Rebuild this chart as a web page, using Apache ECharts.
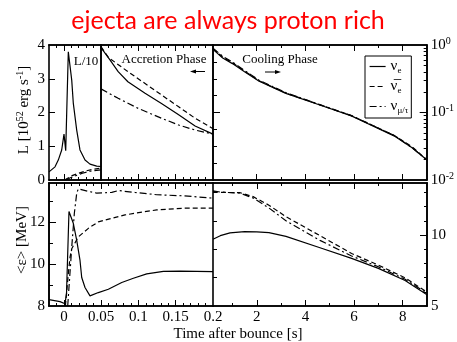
<!DOCTYPE html>
<html><head><meta charset="utf-8">
<script src="https://cdn.jsdelivr.net/npm/echarts@6/dist/echarts.min.js"></script>
<style>html,body{margin:0;padding:0;background:#fff}#c{width:457px;height:342px}</style>
</head><body><div id="c"></div>
<script>
// ---------- data (time in s) ----------
// upper-left inset: luminosity divided by 10 around bounce
const insetTimeNue = [-0.02,-0.0187,-0.0119,-0.0075,-0.0029,0.0002,0.0025,0.006,0.0106,0.0127,0.0173,0.0217,0.0285,0.0352,0.0442,0.05];
const insetLumNue  = [0.24,0.25,0.39,0.59,0.89,1.36,0.87,3.80,2.96,2.28,1.48,0.89,0.59,0.47,0.41,0.40];
const insetTimeNuebar = [0.001,0.005,0.01,0.02,0.03,0.04,0.05];
const insetLumNuebar  = [0.0,0.05,0.12,0.20,0.27,0.32,0.35];
const insetTimeNumu = [0.003,0.008,0.015,0.025,0.035,0.05];
const insetLumNumu  = [0.0,0.06,0.12,0.20,0.26,0.30];

// accretion phase luminosity [1e52 erg/s]
const accTimeNue = [0.05,0.062,0.073,0.086,0.109,0.131,0.154,0.176,0.2];
const accLumNue  = [3.92,3.56,3.21,2.91,2.57,2.27,1.93,1.60,1.36];
const accTimeNuebar = [0.05,0.06,0.086,0.109,0.131,0.154,0.176,0.2];
const accLumNuebar  = [3.95,3.63,3.21,2.86,2.52,2.17,1.83,1.52];
const accTimeNumu = [0.05,0.073,0.1,0.131,0.154,0.176,0.2];
const accLumNumu  = [2.70,2.42,2.12,1.83,1.63,1.48,1.36];

// cooling phase luminosity (log axis)
const coolTime = [0.2,0.6,1.0,1.5,2.1,3.2,4.6,5.9,7.0,7.7,8.4,9.0];
const coolLumNue    = [0.86,0.64,0.53,0.40,0.29,0.192,0.129,0.089,0.058,0.044,0.030,0.020];
const coolLumNuebar = [0.88,0.66,0.545,0.41,0.295,0.194,0.130,0.090,0.059,0.045,0.031,0.020];
const coolLumNumu   = [0.90,0.68,0.56,0.42,0.30,0.197,0.131,0.090,0.059,0.045,0.030,0.020];

// mean energies [MeV], early phase
const earlyTimeNue = [-0.02,-0.0187,-0.0052,0.0015,0.0035,0.0068,0.0126,0.0172,0.0216,0.0239,0.0283,0.035,0.0462,0.0596,0.0776,0.0932,0.1111,0.1334,0.1558,0.2];
const earlyEnNue   = [8.30,8.29,8.21,8.11,8.60,12.50,11.94,11.13,10.17,9.36,8.88,8.48,8.64,8.80,9.12,9.32,9.53,9.65,9.66,9.64];
const earlyTimeNuebar = [0.002,0.0059,0.0082,0.0105,0.0193,0.0328,0.0462,0.0642,0.082,0.0954,0.1246,0.1603,0.2];
const earlyEnNuebar   = [8.00,9.53,10.33,10.73,11.29,11.70,12.01,12.18,12.34,12.42,12.58,12.66,12.66];
const earlyTimeNumu = [0.0051,0.0105,0.014,0.0172,0.0193,0.0216,0.0328,0.044,0.0642,0.073,0.0954,0.1246,0.1603,0.2];
const earlyEnNumu   = [8.00,10.80,12.42,13.38,13.58,13.62,13.46,13.38,13.41,13.50,13.41,13.30,13.25,13.14];

// mean energies [MeV], cooling phase
const lateTimeNue = [0.2,0.5,0.9,1.5,2.0,2.5,3.2,4.6,5.9,7.0,8.1,9.0];
const lateEnNue   = [9.70,9.95,10.15,10.24,10.22,10.16,9.90,9.10,8.35,7.65,6.80,5.80];
const lateTimeHeavy = [0.2,0.5,1.3,1.85,2.5,3.2,4.6,5.9,7.0,8.1,9.0];
const lateEnNuebar  = [13.05,13.00,12.98,12.70,12.10,11.29,9.95,8.70,7.88,6.98,5.97];
const lateEnNumu    = [13.10,13.02,12.95,12.60,11.90,11.00,9.62,8.52,7.76,6.88,5.90];

// tick labels
const earlyTimeLabels = [0,0.05,0.1,0.15,0.2];
const lateTimeLabels = [2,4,6,8];
const lumLabels = [0,1,2,3,4];
const logLumLabels = [0.01,0.1,1];
const earlyEnLabels = [8,10,12];
const lateEnLabels = [5,10];

// ---------- helpers ----------
const SERIF = '"Liberation Serif","DejaVu Serif",serif';
const xAxis = [], yAxis = [], grid = [], series = [];

function steps(a, b, s, skip) {
  skip = skip || [];
  const out = [], n = Math.round((b - a) / s);
  for (let i = 0; i <= n; i++) {
    const v = +(a + i * s).toFixed(6);
    if (!skip.some(k => Math.abs(k - v) < 1e-9)) out.push(v);
  }
  return out;
}

function axis(dim, g, pos, type, min, max, ticks, len, labels, fmt) {
  const a = {
    type: type, gridIndex: g, position: pos, offset: 0, min: min, max: max,
    splitLine: {show: false}, minorTick: {show: false},
    axisLine: {show: true, onZero: false, lineStyle: {color: '#000', width: 1.6}},
    axisTick: {show: ticks.length > 0, inside: true, length: len,
               customValues: ticks.length ? ticks : undefined,
               lineStyle: {color: '#000', width: 1}},
    axisLabel: labels ? {show: true, customValues: labels, formatter: fmt, color: '#000',
                         fontFamily: SERIF, fontSize: 15, margin: 4}
                      : {show: false}
  };
  if (type === 'log') a.logBase = 10;
  const arr = dim === 'x' ? xAxis : yAxis;
  arr.push(a);
  return arr.length - 1;
}

const numFmt = v => String(+v.toFixed(4));
const logFmt = v => '{b|10}{e|' + Math.round(Math.log10(v)) + '}';

const LINE_TYPE = {nue: 'solid', nuebar: [5, 3], numu: [7, 3, 2, 3]};
function curve(name, xs, ys, xi, yi) {
  series.push({
    type: 'line', name: name, xAxisIndex: xi, yAxisIndex: yi,
    data: xs.map((t, i) => [t, ys[i]]),
    symbol: 'none', showSymbol: false, clip: true, animation: false,
    lineStyle: {color: '#000', width: 1.2, type: LINE_TYPE[name]},
    itemStyle: {color: '#000'}
  });
}

// ---------- panels ----------
const TOP = 45, TOP_H = 135, BOT = 183, BOT_H = 123;
const X0 = 49, X1 = 101, X2 = 213, X3 = 427;

// 0: inset, L/10 around bounce
grid.push({left: X0, top: TOP, width: X1 - X0, height: TOP_H});
let gx = axis('x', 0, 'bottom', 'value', -0.02, 0.05, steps(-0.01, 0.04, 0.01, [0]), 3);
axis('x', 0, 'bottom', 'value', -0.02, 0.05, [0], 6);
axis('x', 0, 'top', 'value', -0.02, 0.05, steps(-0.01, 0.04, 0.01, [0]), 3);
axis('x', 0, 'top', 'value', -0.02, 0.05, [0], 6);
let gy = axis('y', 0, 'left', 'value', 0, 4, [1, 2, 3], 6, lumLabels, numFmt);
axis('y', 0, 'right', 'value', 0, 4, [], 0);
curve('nue', insetTimeNue, insetLumNue, gx, gy);
curve('nuebar', insetTimeNuebar, insetLumNuebar, gx, gy);
curve('numu', insetTimeNumu, insetLumNumu, gx, gy);

// 1: accretion phase luminosity
grid.push({left: X1, top: TOP, width: X2 - X1, height: TOP_H});
gx = axis('x', 1, 'bottom', 'value', 0.05, 0.2, steps(0.06, 0.19, 0.01, [0.1, 0.15]), 3);
axis('x', 1, 'bottom', 'value', 0.05, 0.2, [0.1, 0.15], 6);
axis('x', 1, 'top', 'value', 0.05, 0.2, steps(0.06, 0.19, 0.01, [0.1, 0.15]), 3);
axis('x', 1, 'top', 'value', 0.05, 0.2, [0.1, 0.15], 6);
gy = axis('y', 1, 'left', 'value', 0, 4, [], 0);
curve('nue', accTimeNue, accLumNue, gx, gy);
curve('nuebar', accTimeNuebar, accLumNuebar, gx, gy);
curve('numu', accTimeNumu, accLumNumu, gx, gy);

// 2: cooling phase luminosity, log scale
grid.push({left: X2, top: TOP, width: X3 - X2, height: TOP_H});
gx = axis('x', 2, 'bottom', 'value', 0.2, 9, [1, 3, 5, 7], 3);
axis('x', 2, 'bottom', 'value', 0.2, 9, [2, 4, 6, 8], 6);
axis('x', 2, 'top', 'value', 0.2, 9, [1, 3, 5, 7], 3);
axis('x', 2, 'top', 'value', 0.2, 9, [2, 4, 6, 8], 6);
gy = axis('y', 2, 'left', 'log', 0.01, 1, [0.0178, 0.0316, 0.0562, 0.178, 0.316, 0.562], 4);
axis('y', 2, 'left', 'log', 0.01, 1, [0.1], 7);
const decadeMinors = [];
[0.01, 0.1].forEach(d => { for (let k = 2; k <= 9; k++) decadeMinors.push(+(k * d).toFixed(4)); });
axis('y', 2, 'right', 'log', 0.01, 1, decadeMinors, 3);
axis('y', 2, 'right', 'log', 0.01, 1, [0.1], 7, logLumLabels, logFmt);
yAxis[yAxis.length - 1].axisLabel.rich = {
  b: {fontFamily: SERIF, fontSize: 15, color: '#000'},
  e: {fontFamily: SERIF, fontSize: 10, color: '#000', verticalAlign: 'top', padding: [0, 0, 8, 0]}
};
curve('nue', coolTime, coolLumNue, gx, gy);
curve('nuebar', coolTime, coolLumNuebar, gx, gy);
curve('numu', coolTime, coolLumNumu, gx, gy);

// 3: early mean energies
grid.push({left: X0, top: BOT, width: X2 - X0, height: BOT_H});
const earlyMajors = [0, 0.05, 0.1, 0.15];
gx = axis('x', 3, 'bottom', 'value', -0.02, 0.2, steps(-0.01, 0.19, 0.01, earlyMajors), 3);
axis('x', 3, 'bottom', 'value', -0.02, 0.2, earlyMajors, 6, earlyTimeLabels, numFmt);
axis('x', 3, 'top', 'value', -0.02, 0.2, steps(-0.01, 0.19, 0.01, earlyMajors), 3);
axis('x', 3, 'top', 'value', -0.02, 0.2, earlyMajors, 6);
gy = axis('y', 3, 'left', 'value', 8, 13.86, [9, 11, 13], 4);
axis('y', 3, 'left', 'value', 8, 13.86, [10, 12], 7, earlyEnLabels, numFmt);
curve('nue', earlyTimeNue, earlyEnNue, gx, gy);
curve('nuebar', earlyTimeNuebar, earlyEnNuebar, gx, gy);
curve('numu', earlyTimeNumu, earlyEnNumu, gx, gy);

// 4: cooling phase mean energies
grid.push({left: X2, top: BOT, width: X3 - X2, height: BOT_H});
gx = axis('x', 4, 'bottom', 'value', 0.2, 9, [1, 3, 5, 7], 3);
axis('x', 4, 'bottom', 'value', 0.2, 9, [2, 4, 6, 8], 6, lateTimeLabels, numFmt);
axis('x', 4, 'top', 'value', 0.2, 9, [1, 3, 5, 7], 3);
axis('x', 4, 'top', 'value', 0.2, 9, [2, 4, 6, 8], 6);
gy = axis('y', 4, 'left', 'value', 5, 13.66, [7, 9, 11, 13], 4);
axis('y', 4, 'right', 'value', 5, 13.66, [6, 7, 8, 9, 11, 12, 13], 3);
axis('y', 4, 'right', 'value', 5, 13.66, [10], 7, lateEnLabels, numFmt);
curve('nue', lateTimeNue, lateEnNue, gx, gy);
curve('nuebar', lateTimeHeavy, lateEnNuebar, gx, gy);
curve('numu', lateTimeHeavy, lateEnNumu, gx, gy);

// ---------- legend ----------
const LEGEND_TEXT = {
  nue: '{n|ν}{s|e}',
  nuebar: '{n|ν\u0305}{s|e}',
  numu: '{n|ν}{s|μ/τ}'
};

// ---------- annotations ----------
function txt(x, y, text, size) {
  return {type: 'text', x: x, y: y, silent: true,
    style: {text: text, fill: '#000', font: size + 'px ' + SERIF, align: 'center', verticalAlign: 'middle'}};
}

const graphic = [
  {type: 'text', x: 228, y: 21, silent: true,
   style: {text: 'ejecta are always proton rich', fill: '#ff0000',
           font: '25px Lato, "Open Sans", sans-serif', align: 'center', verticalAlign: 'middle'}},
  txt(86, 62, 'L/10', 13),
  txt(164, 60, 'Accretion Phase', 13),
  txt(280, 60, 'Cooling Phase', 13),
  {type: 'line', silent: true, shape: {x1: 192, y1: 71.5, x2: 205, y2: 71.5}, style: {stroke: '#000', lineWidth: 1}},
  {type: 'polygon', silent: true, shape: {points: [[190, 71.5], [196, 69.5], [196, 73.5]]}, style: {fill: '#000'}},
  {type: 'line', silent: true, shape: {x1: 265, y1: 72, x2: 278, y2: 72}, style: {stroke: '#000', lineWidth: 1}},
  {type: 'polygon', silent: true, shape: {points: [[281, 72], [275, 70], [275, 74]]}, style: {fill: '#000'}},
  {type: 'text', x: 24, y: 110, rotation: Math.PI / 2, silent: true,
   style: {text: 'L [10{s|52} erg s{s|-1}]', fill: '#000', font: '15px ' + SERIF,
           align: 'center', verticalAlign: 'middle',
           rich: {s: {fontFamily: SERIF, fontSize: 10, fill: '#000', verticalAlign: 'top', padding: [0, 0, 8, 0]}}}},
  {type: 'text', x: 22, y: 240, rotation: Math.PI / 2, silent: true,
   style: {text: '<ε> [MeV]', fill: '#000', font: '15px ' + SERIF, align: 'center', verticalAlign: 'middle'}},
  txt(238, 334, 'Time after bounce [s]', 15)
];

const chart = echarts.init(document.getElementById('c'), null, {renderer: 'canvas', width: 457, height: 342});
chart.setOption({
  animation: false,
  backgroundColor: '#fff',
  grid: grid,
  xAxis: xAxis,
  yAxis: yAxis,
  legend: {
    left: 365, top: 56, orient: 'vertical', data: ['nue', 'nuebar', 'numu'],
    itemWidth: 16, itemHeight: 13, itemGap: 4, padding: [3, 3, 3, 4],
    borderColor: '#000', borderWidth: 1, borderRadius: 0, backgroundColor: '#fff',
    selectedMode: false,
    itemStyle: {color: 'rgba(0,0,0,0)', borderColor: 'rgba(0,0,0,0)', borderWidth: 0, opacity: 0},
    lineStyle: {color: '#000', width: 1.2, opacity: 1},
    formatter: n => LEGEND_TEXT[n],
    textStyle: {color: '#000', fontFamily: SERIF, fontSize: 14,
      rich: {n: {fontFamily: SERIF, fontSize: 15, color: '#000'},
             s: {fontFamily: SERIF, fontSize: 9, color: '#000', verticalAlign: 'bottom', padding: [8, 0, 0, 0]}}}
  },
  series: series,
  graphic: graphic
});
</script></body></html>
